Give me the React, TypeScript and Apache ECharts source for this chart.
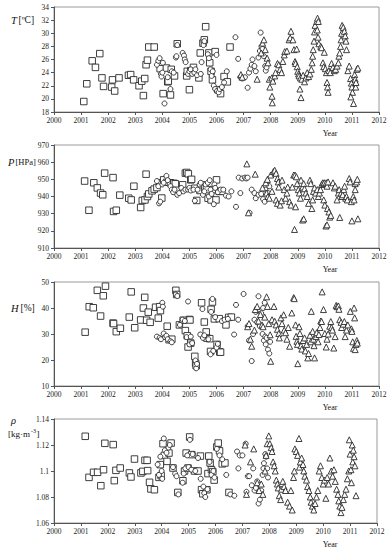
import React, { useEffect, useRef } from 'react';
import * as echarts from 'echarts';

// ---------- Temperature T [ºC] ----------
const T_SQUARES = [[2001.1,19.6],[2001.21,22.3],[2001.41,25.8],[2001.53,24.8],[2001.69,26.9],[2001.77,23.2],[2001.83,21.9],[2002.13,21.8],[2002.16,22.9],[2002.24,21.2],[2002.4,23.2],[2002.75,23.6],[2002.83,23.7],[2002.94,22.9],[2003.14,22.0],[2003.24,22.7],[2003.3,20.5],[2003.35,23.1],[2003.4,25.2],[2003.45,25.9],[2003.5,27.9],[2003.7,27.9],[2003.92,24.6],[2004.03,20.8],[2004.15,24.7],[2004.2,22.6],[2004.22,22.7],[2004.3,20.6],[2004.33,24.5],[2004.45,23.5],[2004.55,28.4],[2004.9,23.5],[2004.92,24.2],[2005.0,21.4],[2005.05,24.3],[2005.15,24.8],[2005.35,23.2],[2005.4,27.0],[2005.5,28.5],[2005.55,29.0],[2005.6,31.0],[2005.72,27.0],[2005.75,25.5],[2005.8,24.2],[2005.85,22.9],[2005.95,27.2],[2006.05,21.4],[2006.15,20.8],[2006.28,23.4],[2006.4,22.6],[2006.5,27.9]];
const T_CIRCLES = [[2003.8,25.2],[2003.85,25.8],[2003.9,26.2],[2003.95,23.8],[2003.97,23.4],[2004.0,24.0],[2004.02,25.5],[2004.08,19.3],[2004.2,23.3],[2004.3,21.5],[2004.35,24.2],[2004.42,24.0],[2004.5,26.3],[2004.52,26.5],[2004.55,28.2],[2004.75,27.0],[2004.8,26.6],[2004.83,26.0],[2004.86,25.6],[2004.95,23.8],[2005.0,24.2],[2005.05,24.5],[2005.1,23.8],[2005.18,24.0],[2005.22,24.5],[2005.28,23.6],[2005.42,23.8],[2005.45,25.6],[2005.52,28.2],[2005.55,28.8],[2005.68,26.8],[2005.72,26.2],[2005.78,24.5],[2005.82,23.5],[2005.86,24.2],[2005.9,22.0],[2005.95,21.5],[2006.0,26.7],[2006.02,21.2],[2006.08,21.0],[2006.12,21.5],[2006.2,21.8],[2006.28,22.5],[2006.38,24.2],[2006.7,29.4],[2006.8,26.1],[2006.88,23.3],[2006.95,23.1],[2007.05,23.3],[2007.15,21.7],[2007.2,24.0],[2007.25,24.6],[2007.3,25.2],[2007.33,26.0],[2007.4,25.0],[2007.45,24.2],[2007.55,26.3],[2007.6,27.3],[2007.63,30.1],[2007.66,28.0],[2007.7,27.6],[2007.75,26.5],[2007.8,25.0],[2007.82,24.3],[2007.85,24.8]];
const T_TRIANGLES = [[2006.9,23.7],[2006.95,23.3],[2007.5,23.0],[2007.65,27.0],[2007.7,28.5],[2007.75,29.0],[2007.8,27.5],[2007.87,26.2],[2007.9,25.5],[2007.95,23.0],[2007.97,21.8],[2008.05,20.4],[2008.06,19.4],[2008.04,23.2],[2008.08,22.7],[2008.15,23.5],[2008.18,24.0],[2008.25,25.4],[2008.3,25.2],[2008.35,24.5],[2008.4,24.0],[2008.45,25.7],[2008.5,26.7],[2008.52,27.2],[2008.6,27.3],[2008.68,29.0],[2008.72,29.3],[2008.75,30.3],[2008.82,29.0],[2008.86,27.5],[2008.9,25.7],[2008.96,27.6],[2008.92,25.4],[2008.98,24.9],[2009.0,24.2],[2009.03,23.8],[2009.05,23.5],[2009.08,21.5],[2009.12,20.2],[2009.1,23.2],[2009.15,23.0],[2009.2,23.6],[2009.25,22.6],[2009.3,23.2],[2009.35,24.0],[2009.4,23.4],[2009.45,23.8],[2009.5,24.5],[2009.53,25.5],[2009.55,26.5],[2009.57,27.5],[2009.6,28.8],[2009.62,30.2],[2009.64,31.2],[2009.7,31.8],[2009.73,32.3],[2009.76,31.8],[2009.72,30.5],[2009.75,29.4],[2009.78,28.4],[2009.85,28.0],[2009.88,27.8],[2009.93,25.5],[2009.96,24.9],[2009.98,27.1],[2010.02,24.6],[2010.06,24.0],[2010.08,22.5],[2010.1,21.8],[2010.12,21.0],[2010.15,24.3],[2010.2,24.0],[2010.25,25.4],[2010.3,24.8],[2010.35,24.3],[2010.4,24.5],[2010.45,25.0],[2010.5,25.5],[2010.52,26.5],[2010.55,27.0],[2010.58,28.0],[2010.6,29.0],[2010.62,30.0],[2010.64,31.2],[2010.68,30.9],[2010.72,30.3],[2010.75,29.6],[2010.78,28.8],[2010.8,27.5],[2010.85,24.3],[2010.9,25.0],[2010.95,23.1],[2010.98,22.4],[2011.0,21.8],[2011.02,21.0],[2010.96,20.3],[2011.06,19.3],[2011.1,23.7],[2011.12,23.0],[2011.14,21.8],[2011.18,24.5],[2011.22,24.7],[2011.15,22.5]];

// ---------- Pressure P [HPa] ----------
const P_SQUARES = [[2001.13,949],[2001.29,932],[2001.47,948],[2001.6,945],[2001.72,942],[2001.8,941],[2001.87,953.6],[2002.18,951],[2002.2,931.3],[2002.3,932],[2002.43,940.8],[2002.76,939],[2002.85,938],[2002.95,946],[2003.2,933.6],[2003.26,937.7],[2003.36,938],[2003.4,953],[2003.45,940],[2003.5,941.5],[2003.62,943.3],[2003.7,944.3],[2003.8,945.2],[2003.9,948],[2003.98,939.1],[2004.05,949.7],[2004.17,948.3],[2004.3,948],[2004.42,947.7],[2004.48,947.4],[2004.75,946.8],[2004.85,953.6],[2004.9,954],[2004.96,953.2],[2005.05,949.7],[2005.08,950],[2005.2,944.8],[2005.27,937.7],[2005.39,943.5],[2005.45,946.8],[2005.57,944.8],[2005.63,944],[2005.69,939],[2005.8,938],[2005.88,944],[2005.98,938],[2006.0,949.7],[2006.1,943],[2006.2,943]];
const P_CIRCLES = [[2003.8,949],[2003.85,946],[2003.88,936],[2003.92,937],[2004.0,947],[2004.05,948],[2004.15,952],[2004.2,949.5],[2004.3,946],[2004.35,944],[2004.4,942.5],[2004.45,944],[2004.55,941],[2004.62,942],[2004.7,945],[2004.78,943],[2004.85,944],[2004.95,944],[2005.0,945],[2005.05,943.5],[2005.15,944],[2005.2,937.5],[2005.3,944],[2005.38,947],[2005.42,948],[2005.5,941],[2005.55,943],[2005.6,947],[2005.68,948],[2005.72,940],[2005.75,949.5],[2005.78,944],[2005.82,941.5],[2005.9,935.5],[2005.92,947],[2005.95,945],[2006.05,942.5],[2006.15,944],[2006.25,944],[2006.35,940.5],[2006.45,940],[2006.55,943],[2006.72,934],[2006.82,951],[2006.88,942],[2006.95,950.5],[2007.05,951],[2007.1,950.5],[2007.15,951],[2007.22,930.5],[2007.3,944],[2007.4,942],[2007.45,939],[2007.55,941],[2007.65,941.5],[2007.72,938.5],[2007.78,937],[2007.8,944],[2007.85,948],[2007.9,942],[2007.95,946]];
const P_TRIANGLES = [[2007.12,959],[2007.18,930.5],[2007.43,953],[2007.7,945],[2007.82,948],[2007.85,942],[2007.9,940],[2007.95,939],[2007.88,950],[2008.0,952.5],[2008.05,943],[2008.1,954.5],[2008.15,955.3],[2008.2,953.5],[2008.25,950.5],[2008.28,948.5],[2008.3,945.5],[2008.2,938],[2008.25,936],[2008.35,935],[2008.4,937.5],[2008.42,949.5],[2008.5,944],[2008.55,939],[2008.6,942],[2008.63,945.5],[2008.7,937],[2008.75,935],[2008.8,945.5],[2008.85,952.5],[2008.9,952.5],[2008.95,951.5],[2008.88,920.8],[2008.92,934],[2008.98,947.5],[2009.02,944],[2009.06,942],[2009.1,939],[2009.12,949.5],[2009.18,945.5],[2009.22,947.5],[2009.25,944.5],[2009.18,926.3],[2009.22,927],[2009.3,942],[2009.35,940],[2009.4,936],[2009.45,949.5],[2009.48,947.5],[2009.52,933],[2009.55,938],[2009.58,943],[2009.62,945],[2009.66,942],[2009.72,944],[2009.76,940],[2009.8,942],[2009.84,944],[2009.88,947],[2009.92,948],[2009.96,947.5],[2009.98,948],[2009.96,938],[2010.0,935],[2010.05,948],[2010.08,946],[2010.12,948.5],[2010.1,933],[2010.15,931],[2010.04,922.8],[2010.08,923.5],[2010.18,928],[2010.22,929],[2010.3,948],[2010.35,945],[2010.38,946],[2010.45,938],[2010.5,942],[2010.53,944],[2010.55,927.8],[2010.6,942],[2010.63,940],[2010.66,941],[2010.7,944],[2010.73,946],[2010.77,939],[2010.8,940],[2010.83,938],[2010.9,950.5],[2010.93,948.5],[2010.98,937],[2011.0,925.8],[2011.05,940],[2011.08,938],[2011.12,947.5],[2011.17,948.5],[2011.2,950],[2011.22,927],[2011.12,944]];

// ---------- Humidity H [%] ----------
const H_SQUARES = [[2001.15,30.7],[2001.3,40.5],[2001.45,40.1],[2001.6,46.8],[2001.72,36.9],[2001.82,44.7],[2001.9,48.4],[2002.18,34.2],[2002.2,34.0],[2002.3,30.9],[2002.45,32.2],[2002.78,36.5],[2002.85,46.2],[2002.98,32.4],[2003.2,35.4],[2003.3,40.0],[2003.35,44.1],[2003.42,35.3],[2003.48,38.4],[2003.55,34.5],[2003.75,40.3],[2003.85,36.1],[2003.9,40.5],[2003.93,39.0],[2004.18,33.0],[2004.25,27.8],[2004.35,28.0],[2004.5,46.8],[2004.53,45.2],[2004.63,33.5],[2004.77,35.3],[2004.85,31.3],[2004.92,29.3],[2004.95,25.0],[2005.0,35.6],[2005.02,35.4],[2005.05,26.5],[2005.2,21.4],[2005.23,18.7],[2005.25,17.8],[2005.45,42.0],[2005.55,34.6],[2005.62,30.8],[2005.65,28.4],[2005.75,28.2],[2005.8,39.5],[2005.78,23.3],[2005.85,42.3],[2005.92,35.8],[2006.02,26.0],[2006.1,35.9],[2006.12,23.1],[2006.15,23.0],[2006.35,33.5],[2006.45,36.4],[2006.55,36.5]];
const H_CIRCLES = [[2003.8,29.0],[2003.9,28.5],[2003.95,28.0],[2004.0,42.0],[2004.02,40.5],[2004.05,30.2],[2004.1,28.8],[2004.15,29.3],[2004.2,28.0],[2004.3,27.2],[2004.35,26.8],[2004.5,45.2],[2004.55,44.6],[2004.65,33.5],[2004.75,35.5],[2004.83,35.0],[2004.9,28.8],[2004.95,42.5],[2005.0,26.0],[2005.05,29.0],[2005.1,26.5],[2005.22,19.8],[2005.25,16.8],[2005.28,18.5],[2005.4,29.8],[2005.48,39.6],[2005.5,28.5],[2005.55,29.5],[2005.7,28.0],[2005.78,22.2],[2005.8,38.5],[2005.85,43.5],[2005.88,23.5],[2005.95,36.5],[2006.0,24.8],[2006.05,26.2],[2006.2,35.0],[2006.3,35.5],[2006.42,35.8],[2006.65,29.8],[2006.72,41.2],[2006.8,35.5],[2007.0,45.4],[2007.15,33.0],[2007.2,27.5],[2007.3,19.6],[2007.35,30.0],[2007.4,35.5],[2007.45,38.5],[2007.5,34.5],[2007.55,44.5],[2007.6,33.0],[2007.65,38.0],[2007.7,30.0],[2007.72,40.0],[2007.75,27.5],[2007.78,42.0],[2007.8,29.0],[2007.82,26.0],[2007.85,28.5],[2007.9,24.0],[2007.95,22.5],[2007.98,27.0]];
const H_TRIANGLES = [[2007.15,32.8],[2007.2,34.0],[2007.25,28.0],[2007.3,25.3],[2007.4,31.5],[2007.43,39.4],[2007.5,40.6],[2007.55,35.0],[2007.62,37.5],[2007.68,33.5],[2007.72,32.8],[2007.78,36.5],[2007.85,44.3],[2007.88,40.6],[2007.93,34.0],[2007.98,29.7],[2008.0,19.5],[2008.05,35.5],[2008.12,40.6],[2008.15,34.9],[2008.2,33.5],[2008.25,31.8],[2008.3,30.2],[2008.32,28.5],[2008.38,36.2],[2008.42,34.0],[2008.48,37.4],[2008.5,31.5],[2008.55,30.5],[2008.6,28.0],[2008.65,32.5],[2008.7,25.3],[2008.78,38.1],[2008.85,44.0],[2008.87,43.6],[2008.92,33.5],[2008.94,29.1],[2008.97,27.2],[2008.99,26.0],[2009.0,18.6],[2009.05,32.8],[2009.08,30.2],[2009.12,25.5],[2009.15,24.2],[2009.2,27.5],[2009.25,28.5],[2009.28,23.5],[2009.33,26.0],[2009.37,20.8],[2009.4,22.5],[2009.45,29.5],[2009.48,27.0],[2009.5,38.7],[2009.55,31.0],[2009.58,28.0],[2009.6,25.5],[2009.62,20.8],[2009.68,29.0],[2009.7,30.5],[2009.75,27.0],[2009.78,29.8],[2009.82,32.5],[2009.85,35.0],[2009.88,34.8],[2009.9,46.2],[2009.95,39.4],[2010.0,30.2],[2010.05,25.0],[2010.08,28.0],[2010.12,30.0],[2010.18,33.0],[2010.22,34.8],[2010.25,32.5],[2010.28,31.5],[2010.33,24.6],[2010.38,29.0],[2010.42,41.0],[2010.45,40.5],[2010.5,40.8],[2010.52,39.5],[2010.55,35.5],[2010.6,34.5],[2010.62,32.5],[2010.68,33.8],[2010.72,34.8],[2010.75,29.0],[2010.8,31.5],[2010.85,33.5],[2010.94,38.7],[2010.98,32.0],[2011.0,31.0],[2011.03,27.0],[2011.06,24.5],[2011.08,40.0],[2011.1,36.2],[2011.12,24.0],[2011.15,26.0],[2011.18,27.5],[2011.2,26.5]];

// ---------- Density rho [kg·m-3] ----------
const R_SQUARES = [[2001.16,1.1267],[2001.3,1.0951],[2001.47,1.099],[2001.62,1.099],[2001.74,1.0887],[2001.84,1.101],[2001.89,1.1213],[2002.2,1.1203],[2002.24,1.0926],[2002.3,1.1005],[2002.46,1.1023],[2002.8,1.0985],[2002.86,1.0954],[2002.99,1.1092],[2003.23,1.0985],[2003.3,1.0997],[2003.38,1.1082],[2003.46,1.1082],[2003.48,1.1003],[2003.55,1.0913],[2003.6,1.0862],[2003.73,1.0856],[2003.9,1.0951],[2003.95,1.1049],[2003.98,1.0964],[2004.05,1.121],[2004.1,1.112],[2004.2,1.1074],[2004.27,1.1138],[2004.35,1.1215],[2004.42,1.1023],[2004.6,1.0835],[2004.79,1.0925],[2004.85,1.1],[2004.91,1.1138],[2004.98,1.1023],[2005.04,1.1262],[2005.12,1.1126],[2005.22,1.1],[2005.35,1.1],[2005.44,1.1115],[2005.48,1.0856],[2005.53,1.0825],[2005.68,1.0856],[2005.72,1.098],[2005.75,1.1115],[2005.8,1.1062],[2005.85,1.101],[2005.9,1.0995],[2005.95,1.093],[2006.05,1.1185],[2006.1,1.1215],[2006.15,1.1155],[2006.25,1.1055],[2006.35,1.1062],[2006.5,1.0835]];
const R_CIRCLES = [[2003.85,1.105],[2003.9,1.097],[2003.95,1.111],[2004.0,1.1],[2004.02,1.094],[2004.08,1.125],[2004.12,1.116],[2004.18,1.114],[2004.25,1.118],[2004.3,1.12],[2004.42,1.103],[2004.5,1.098],[2004.55,1.096],[2004.62,1.082],[2004.78,1.091],[2004.82,1.098],[2004.88,1.102],[2004.95,1.112],[2005.0,1.103],[2005.05,1.124],[2005.1,1.101],[2005.15,1.113],[2005.25,1.1],[2005.35,1.11],[2005.45,1.094],[2005.55,1.088],[2005.58,1.083],[2005.62,1.08],[2005.7,1.086],[2005.78,1.107],[2005.85,1.097],[2005.92,1.1],[2005.96,1.095],[2006.05,1.117],[2006.15,1.112],[2006.25,1.109],[2006.4,1.097],[2006.55,1.082],[2006.7,1.081],[2006.8,1.115],[2006.85,1.102],[2006.9,1.112],[2007.0,1.112],[2007.12,1.121],[2007.15,1.084],[2007.2,1.096],[2007.25,1.096],[2007.35,1.089],[2007.4,1.102],[2007.45,1.085],[2007.5,1.087],[2007.55,1.092],[2007.6,1.075],[2007.65,1.078],[2007.7,1.085],[2007.75,1.097],[2007.78,1.102],[2007.8,1.106],[2007.85,1.113],[2007.88,1.111],[2007.92,1.102],[2007.95,1.095]];
const R_TRIANGLES = [[2007.1,1.12],[2007.15,1.082],[2007.3,1.107],[2007.42,1.117],[2007.55,1.091],[2007.62,1.085],[2007.7,1.09],[2007.76,1.082],[2007.84,1.1],[2007.88,1.112],[2007.92,1.121],[2007.98,1.127],[2008.02,1.121],[2008.07,1.118],[2008.1,1.115],[2008.14,1.107],[2008.18,1.104],[2008.22,1.1],[2008.26,1.093],[2008.3,1.09],[2008.33,1.087],[2008.37,1.081],[2008.42,1.078],[2008.45,1.086],[2008.5,1.092],[2008.55,1.088],[2008.6,1.085],[2008.68,1.076],[2008.75,1.073],[2008.8,1.085],[2008.85,1.07],[2008.9,1.095],[2008.93,1.1],[2008.95,1.117],[2009.0,1.115],[2009.05,1.112],[2009.1,1.125],[2009.12,1.103],[2009.15,1.107],[2009.2,1.11],[2009.25,1.105],[2009.28,1.1],[2009.32,1.096],[2009.38,1.093],[2009.42,1.088],[2009.47,1.085],[2009.52,1.08],[2009.55,1.076],[2009.6,1.073],[2009.65,1.07],[2009.7,1.075],[2009.75,1.08],[2009.8,1.085],[2009.85,1.1],[2009.9,1.104],[2009.95,1.095],[2010.0,1.09],[2010.05,1.093],[2010.1,1.079],[2010.15,1.095],[2010.2,1.09],[2010.25,1.11],[2010.3,1.1],[2010.35,1.096],[2010.4,1.101],[2010.45,1.092],[2010.5,1.086],[2010.55,1.082],[2010.58,1.077],[2010.62,1.073],[2010.66,1.068],[2010.7,1.072],[2010.75,1.078],[2010.8,1.082],[2010.85,1.086],[2010.9,1.094],[2010.95,1.1],[2010.97,1.124],[2011.0,1.113],[2011.03,1.101],[2011.05,1.091],[2011.08,1.12],[2011.1,1.107],[2011.12,1.116],[2011.15,1.111],[2011.18,1.104],[2011.22,1.081]];

const X_MIN = 2000;
const X_MAX = 2012;
const AXIS_NAME_X = 'Year';

const FONT = '"Liberation Serif", "Times New Roman", serif';

export default function App() {
  const ref = useRef<HTMLDivElement>(null);

  useEffect(() => {
    if (!ref.current) return;
    const chart = echarts.init(ref.current, null, { renderer: 'svg' });

    const panels = [
      { top: 7, height: 105, right: 13, min: 18, max: 34, interval: 2, sets: [T_SQUARES, T_CIRCLES, T_TRIANGLES] },
      { top: 145, height: 103, right: 13, min: 910, max: 970, interval: 10, sets: [P_SQUARES, P_CIRCLES, P_TRIANGLES] },
      { top: 282, height: 104, right: 13, min: 10, max: 50, interval: 10, sets: [H_SQUARES, H_CIRCLES, H_TRIANGLES] },
      { top: 419, height: 104, right: 15, min: 1.06, max: 1.14, interval: 0.02, sets: [R_SQUARES, R_CIRCLES, R_TRIANGLES] },
    ];

    const labelStyle = { fontFamily: FONT, fontSize: 7.5, color: '#222', fontWeight: 'normal' };
    const symbols = [
      { symbol: 'rect', size: 6.5 },
      { symbol: 'circle', size: 5 },
      { symbol: 'triangle', size: 6 },
    ];

    const grid: any[] = [];
    const xAxis: any[] = [];
    const yAxis: any[] = [];
    const series: any[] = [];

    panels.forEach((p, i) => {
      grid.push({
        left: 54, right: p.right, top: p.top, height: p.height,
        show: true, borderColor: '#9a9a9a', borderWidth: 1, backgroundColor: 'transparent',
      });
      xAxis.push({
        type: 'value', gridIndex: i, min: X_MIN, max: X_MAX, interval: 1,
        axisLine: { show: true, lineStyle: { color: '#555', width: 1 } },
        axisTick: { show: true, inside: false, length: 3, lineStyle: { color: '#555' } },
        axisLabel: { ...labelStyle, margin: 4, formatter: (v: number) => String(v) },
        splitLine: { show: false },
      });
      yAxis.push({
        type: 'value', gridIndex: i, min: p.min, max: p.max, interval: p.interval,
        axisLine: { show: true, lineStyle: { color: '#555', width: 1 } },
        axisTick: { show: true, inside: false, length: 3, lineStyle: { color: '#555' } },
        axisLabel: { ...labelStyle, margin: 5, formatter: (v: number) => String(Math.round(v * 1000) / 1000) },
        splitLine: { show: false },
      });
      p.sets.forEach((data, k) => {
        series.push({
          type: 'scatter', xAxisIndex: i, yAxisIndex: i, data,
          symbol: symbols[k].symbol, symbolSize: symbols[k].size,
          itemStyle: { color: '#fff', borderColor: '#2a2a2a', borderWidth: 0.9, opacity: 1 },
          emphasis: { disabled: true },
          silent: true,
        });
      });
    });

    const txt = (x: number, y: number, text: string, size: number, extra: any = {}) => ({
      type: 'text', x, y, silent: true,
      style: {
        text, fontFamily: FONT, fontSize: size, fontWeight: 'normal', fill: '#111',
        verticalAlign: 'middle', align: 'left', ...extra,
      },
    });

    const graphic: any[] = [
      // x-axis names
      ...panels.map((p) => txt(330, p.top + p.height + 21, AXIS_NAME_X, 8, { align: 'center' })),
      // y-axis names
      txt(11, 20, 'T', 10.5, { fontStyle: 'italic' }),
      txt(18.5, 20, '[ºC]', 9.5),
      txt(8, 162, 'P', 10.5, { fontStyle: 'italic' }),
      txt(15.5, 162, '[HPa]', 8.5),
      txt(11, 308, 'H', 10.5, { fontStyle: 'italic' }),
      txt(20.5, 308, '[%]', 9.5),
      txt(11, 420, 'ρ', 10.5, { fontStyle: 'italic' }),
      txt(8, 434, '[kg·m', 9),
      txt(31, 430.5, '-3', 6),
      txt(36.5, 434, ']', 9),
    ];

    chart.setOption({
      animation: false,
      backgroundColor: '#fff',
      grid, xAxis, yAxis, series, graphic,
    });

    return () => chart.dispose();
  }, []);

  return (
    <div
      ref={ref}
      style={{ position: 'fixed', left: 0, top: 0, width: 392, height: 550, background: '#fff' }}
    />
  );
}
